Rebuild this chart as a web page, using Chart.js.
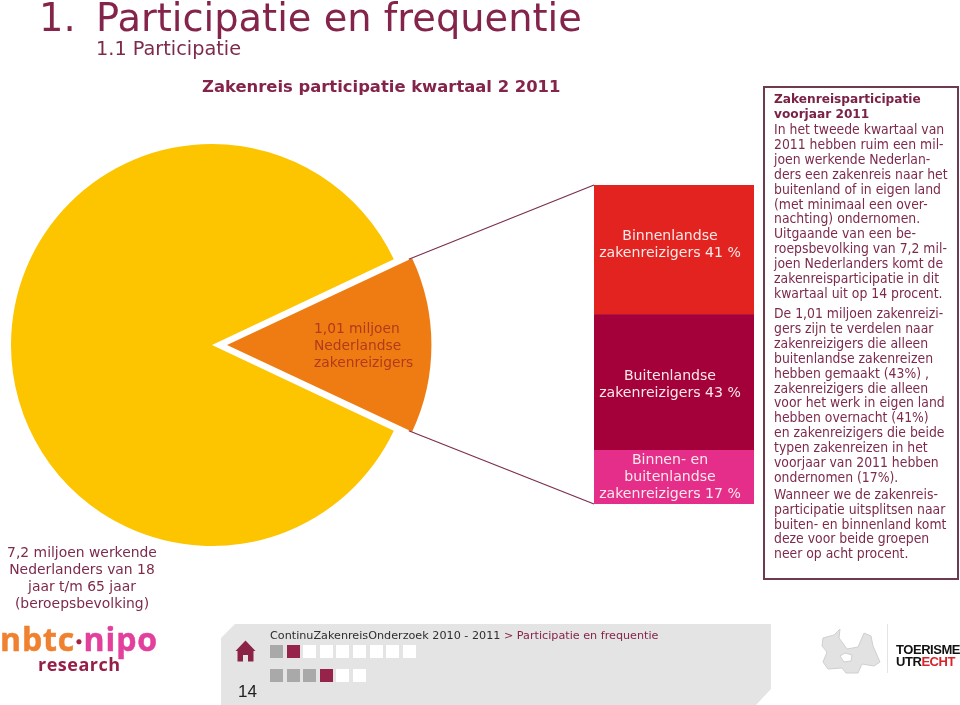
<!DOCTYPE html>
<html>
<head>
<meta charset="utf-8">
<title>Zakenreis participatie kwartaal 2 2011</title>
<script src="https://cdn.jsdelivr.net/npm/chart.js@4"></script>
<style>
  html, body { margin: 0; padding: 0; background: #fff; }
  #page { position: relative; width: 960px; height: 705px; overflow: hidden; font-family: "DejaVu Sans", sans-serif; color: #7d2a4c; }
  #page canvas { position: absolute; }
  .t { position: absolute; white-space: pre; }
  .c { text-align: center; }
  .body { font-size: 13.2px; transform: scaleX(0.943); transform-origin: left top; }
  #box { position: absolute; left: 763px; top: 86px; width: 192px; height: 490px; border: 2px solid #6d3a50; }
  #footer { position: absolute; left: 221px; top: 624px; width: 550px; height: 81px; background: #e4e4e4;
    clip-path: polygon(14px 0, 100% 0, 100% 65px, 535px 100%, 0 100%, 0 14px); }
  .sq { position: absolute; width: 13px; height: 13px; }
</style>
</head>
<body>
<div id="page">
  <canvas id="pie" width="960" height="705" style="left:0;top:0"></canvas>
  <canvas id="bar" width="160" height="319" style="left:594px;top:185px"></canvas>

  <div class="t" style="left:39px;top:-5px;font-size:38.4px;color:#84244a">1.</div>
  <div class="t" style="left:96px;top:-5px;font-size:38.4px;color:#84244a" id="title">Participatie en frequentie</div>
  <div class="t" style="left:96px;top:37px;font-size:19.3px">1.1 Participatie</div>
  <div class="t" style="left:202px;top:77px;font-size:16.4px;font-weight:bold;color:#84244a">Zakenreis participatie kwartaal 2 2011</div>

  <div class="t" style="left:314px;top:320px;font-size:13.8px;line-height:17px;color:#b23a1c">1,01 miljoen
Nederlandse
zakenreizigers</div>
  <div class="t c" style="left:0;top:544px;width:164px;font-size:13.9px;line-height:17px">7,2 miljoen werkende
Nederlanders van 18
jaar t/m 65 jaar
(beroepsbevolking)</div>

  <div id="box"></div>
  <div class="t body" style="left:774px;top:91px;font-size:12.9px;line-height:15px;font-weight:bold;color:#7a2146">Zakenreisparticipatie
voorjaar 2011</div>
  <div class="t body" id="p1" style="left:774px;top:123px;line-height:14.9px"></div>
  <div class="t body" id="p2" style="left:774px;top:307px;line-height:14.9px"></div>
  <div class="t body" id="p3" style="left:774px;top:488px;line-height:14.8px"></div>

  <div id="footer"></div>
  <svg style="position:absolute;left:235px;top:640px" width="21" height="22" viewBox="0 0 21 22">
    <path d="M10.5 0.5 L20.5 11 L18.5 11 L18.5 21 Q18.5 21.5 18 21.5 L13 21.5 L13 15 L8 15 L8 21.5 L3 21.5 Q2.5 21.5 2.5 21 L2.5 11 L0.5 11 Z" fill="#8a2346"/>
  </svg>
  <div class="t" style="left:238px;top:682px;font-family:'Liberation Sans';font-size:17px;color:#222">14</div>
  <div class="t" style="left:270px;top:629px;font-size:11.2px;color:#2e2e2e">ContinuZakenreisOnderzoek 2010 - 2011 <span style="color:#84244a">&gt; Participatie en frequentie</span></div>
  <div id="squares"></div>

  <div class="t" style="left:0;top:617px;font-family:'Open Sans';font-weight:bold;font-size:32px;letter-spacing:0.9px;-webkit-text-stroke:0.5px"><span style="color:#ef8130">nbtc</span><span style="color:#a6203f;font-size:26px">·</span><span style="color:#e2409c">nipo</span></div>
  <div class="t" style="left:38px;top:652px;font-family:'Open Sans';font-weight:bold;font-size:18px;letter-spacing:0.5px;color:#961f47">research</div>

  <svg style="position:absolute;left:820px;top:626px" width="62" height="48" viewBox="0 0 62 48">
    <path d="M3 12 L14 9 L20 3 L19 12 L27 23 L38 21 L44 7 L51 10 L53 20 L60 36 L54 40 L42 38 L38 47 L26 47 L22 42 L8 43 L3 36 L7 26 L2 20 Z" fill="#e2e2e2" stroke="#cfcfcf" stroke-width="1"/>
    <path d="M20 30 L25 27 L32 29 L31 35 L24 36 Z" fill="#fff" stroke="#cfcfcf"/>
  </svg>
  <div style="position:absolute;left:887px;top:624px;width:1px;height:49px;background:#e4e4e4"></div>
  <div class="t" style="left:896px;top:644px;font-family:'Liberation Sans';font-weight:bold;font-size:13px;letter-spacing:-0.45px;line-height:12px;color:#111">TOERISME
UTR<span style="color:#d8232a">ECHT</span></div>
</div>

<script>
Chart.defaults.animation = false;

// pie: werkende Nederlanders, in miljoenen
const pieCategories = ["Nederlandse zakenreizigers", "Overige werkende Nederlanders"];
const pieValues = [1.01, 6.19];
const pieColors = ["#ef7c12", "#fdc400"];

// stacked column, bottom to top
const barCategories = ["Binnen- en buitenlandse", "Buitenlandse", "Binnenlandse"];
const barValues = [17, 43, 41];
const barColors = ["#e52e8a", "#a4003a", "#e2231f"];
const barLabels = [
  ["Binnen- en", "buitenlandse", "zakenreizigers 17 %"],
  ["Buitenlandse", "zakenreizigers 43 %"],
  ["Binnenlandse", "zakenreizigers 41 %"],
];
// the labels do not sit exactly mid-segment in the original
const barLabelNudge = [0.5, 2.5, -5];

const para1 = ["In het tweede kwartaal van", "2011 hebben ruim een mil-", "joen werkende Nederlan-", "ders een zakenreis naar het", "buitenland of in eigen land", "(met minimaal een over-", "nachting) ondernomen.", "Uitgaande van een be-", "roepsbevolking van 7,2 mil-", "joen Nederlanders komt de", "zakenreisparticipatie in dit", "kwartaal uit op 14 procent."];
const para2 = ["De 1,01 miljoen zakenreizi-", "gers zijn te verdelen naar", "zakenreizigers die alleen", "buitenlandse zakenreizen", "hebben gemaakt (43%) ,", "zakenreizigers die alleen", "voor het werk in eigen land", "hebben overnacht (41%)", "en zakenreizigers die beide", "typen zakenreizen in het", "voorjaar van 2011 hebben", "ondernomen (17%)."];
const para3 = ["Wanneer we de zakenreis-", "participatie uitsplitsen naar", "buiten- en binnenland komt", "deze voor beide groepen", "neer op acht procent."];

document.getElementById("p1").textContent = para1.join("\n");
document.getElementById("p2").textContent = para2.join("\n");
document.getElementById("p3").textContent = para3.join("\n");

// footer navigation blocks
const navRows = [
  { top: 645, states: ["g", "m", "w", "w", "w", "w", "w", "w", "w"] },
  { top: 669, states: ["g", "g", "g", "m", "w", "w"] },
];
const navColors = { g: "#a9a9a9", m: "#96234a", w: "#fff" };
const squares = document.getElementById("squares");
navRows.forEach((row) => {
  row.states.forEach((s, i) => {
    const d = document.createElement("div");
    d.className = "sq";
    d.style.left = 270 + i * 16.6 + "px";
    d.style.top = row.top + "px";
    d.style.background = navColors[s];
    squares.appendChild(d);
  });
});

const barLabelPlugin = {
  id: "barLabels",
  afterDatasetsDraw(chart) {
    const ctx = chart.ctx;
    ctx.save();
    ctx.font = "14.1px 'DejaVu Sans'";
    ctx.fillStyle = "#fbe9ea";
    ctx.textAlign = "center";
    ctx.textBaseline = "middle";
    chart.data.datasets.forEach((ds, i) => {
      const el = chart.getDatasetMeta(i).data[0];
      const lines = barLabels[i];
      const mid = (el.y + el.base) / 2 + barLabelNudge[i];
      lines.forEach((line, j) => {
        ctx.fillText(line, el.x - 4, mid + (j - (lines.length - 1) / 2) * 17);
      });
    });
    ctx.restore();
  },
};

const barCanvas = document.getElementById("bar");
const barChart = new Chart(barCanvas, {
  type: "bar",
  data: {
    labels: ["Zakenreizigers"],
    datasets: barCategories.map((name, i) => ({
      label: name,
      data: [barValues[i]],
      backgroundColor: barColors[i],
      borderWidth: 0,
      categoryPercentage: 1,
      barPercentage: 1,
    })),
  },
  options: {
    responsive: false,
    layout: { padding: 0 },
    plugins: { legend: { display: false }, tooltip: { enabled: false } },
    scales: {
      x: { stacked: true, display: false },
      y: { stacked: true, display: false, min: 0, max: 101 },
    },
  },
  plugins: [barLabelPlugin],
});

// lines from the orange slice to the column
const connectorPlugin = {
  id: "connector",
  afterDatasetsDraw(chart) {
    const arc = chart.getDatasetMeta(0).data[0];
    // Chart.js moves a slice by a quarter of its offset option
    const offset = arc.options.offset / 4;
    const mid = (arc.startAngle + arc.endAngle) / 2;
    const cx = arc.x + Math.cos(mid) * offset;
    const cy = arc.y + Math.sin(mid) * offset;
    const r = arc.outerRadius;
    const left = barCanvas.offsetLeft;
    const top = barCanvas.offsetTop;
    const metaLast = barChart.getDatasetMeta(barValues.length - 1).data[0];
    const metaFirst = barChart.getDatasetMeta(0).data[0];
    const barX = left + metaLast.x - metaLast.width / 2;
    const pairs = [
      [arc.startAngle, top + metaLast.y],
      [arc.endAngle, top + metaFirst.base],
    ];
    const ctx = chart.ctx;
    ctx.save();
    ctx.strokeStyle = "#7b2d4f";
    ctx.lineWidth = 1.2;
    pairs.forEach(([angle, y]) => {
      ctx.beginPath();
      ctx.moveTo(cx + Math.cos(angle) * r, cy + Math.sin(angle) * r);
      ctx.lineTo(barX, y);
      ctx.stroke();
    });
    ctx.restore();
  },
};

new Chart(document.getElementById("pie"), {
  type: "pie",
  data: {
    labels: pieCategories,
    datasets: [{
      data: pieValues,
      backgroundColor: pieColors,
      borderWidth: 0,
      radius: 201,
      offset: [60, 0],
    }],
  },
  options: {
    responsive: false,
    rotation: 90 - (pieValues[0] / (pieValues[0] + pieValues[1])) * 180,
    layout: { padding: { left: 0, top: 0, right: 536, bottom: 15 } },
    plugins: { legend: { display: false }, tooltip: { enabled: false } },
  },
  plugins: [connectorPlugin],
});
</script>
</body>
</html>
